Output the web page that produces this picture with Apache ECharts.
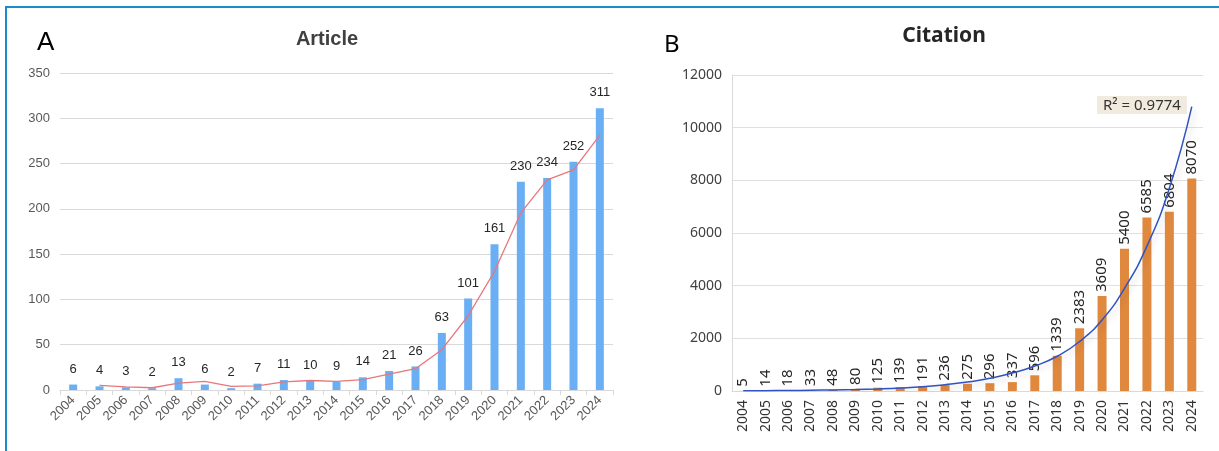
<!DOCTYPE html>
<html>
<head>
<meta charset="utf-8">
<script src="https://cdn.jsdelivr.net/npm/echarts@6/dist/echarts.min.js"></script>
<style>
html,body{margin:0;padding:0;background:#fff;}
#c{width:1219px;height:451px;}
</style>
</head>
<body>
<div id="c"></div>
<script>
const years = ['2004','2005','2006','2007','2008','2009','2010','2011','2012','2013','2014','2015','2016','2017','2018','2019','2020','2021','2022','2023','2024'];
const articles = [6,4,3,2,13,6,2,7,11,10,9,14,21,26,63,101,161,230,234,252,311];
const articleTrend = [null,5,3.5,2.5,7.5,9.5,4,4.5,9,10.5,9.5,11.5,17.5,23.5,44.5,82,131,195.5,232,243,281.5];
const citations = [5,14,18,33,48,80,125,139,191,236,275,296,337,596,1339,2383,3609,5400,6585,6804,8070];
const citationTrend = [10,14,20,28,40,56,80,113,161,240,340,480,680,950,1320,1880,2700,3900,5500,7700,10800];
const articleTicks = [0,50,100,150,200,250,300,350];
const citationTicks = [0,2000,4000,6000,8000,10000,12000];
const r2Text = 'R² = 0.9774';

const chart = echarts.init(document.getElementById('c'), null, {renderer:'canvas'});
const leftFont = 'Liberation Sans, Arial, sans-serif';
const rightFont = 'Noto Sans, Open Sans, sans-serif';

chart.setOption({
  animation:false,
  backgroundColor:'#fff',
  title:[
    {text:'Article', left:322, top:24, textAlign:'center',
     textStyle:{fontFamily:leftFont, fontSize:20, fontWeight:'bold', color:'#404040'}},
    {text:'Citation', left:939, top:21, textAlign:'center',
     textStyle:{fontFamily:rightFont, fontSize:21, fontWeight:'bold', color:'#262626'}},
    {text:'A', left:32, top:25, textStyle:{fontFamily:leftFont, fontSize:26, fontWeight:'normal', color:'#000'}},
    {text:'B', left:659, top:28, textStyle:{fontFamily:rightFont, fontSize:24, fontWeight:'normal', color:'#000'}}
  ],
  graphic:[
    {type:'rect', shape:{x:5, y:6, width:1214, height:2}, style:{fill:'#1b8bc9'}, silent:true},
    {type:'rect', shape:{x:5, y:6, width:2, height:445}, style:{fill:'#1b8bc9'}, silent:true},
    {type:'text', left:1097, top:96, z:10,
     style:{text:r2Text, fontFamily:rightFont, fontSize:15, fill:'#333',
            backgroundColor:'#f1eadf', padding:[2,6,1,6]}}
  ],
  grid:[
    {left:60, right:606, top:73, bottom:61},
    {left:732, right:16, top:75, bottom:60}
  ],
  xAxis:[
    {type:'category', gridIndex:0, data:years,
     axisLine:{lineStyle:{color:'#d9d9d9'}},
     axisTick:{show:true, alignWithLabel:false, length:5, lineStyle:{color:'#d9d9d9'}},
     axisLabel:{rotate:45, margin:8, fontFamily:leftFont, fontSize:13, color:'#595959', interval:0}},
    {type:'category', gridIndex:1, data:years,
     axisLine:{lineStyle:{color:'#d9d9d9'}},
     axisTick:{show:false},
     axisLabel:{rotate:90, margin:9, fontFamily:rightFont, fontSize:14, color:'#333', interval:0}}
  ],
  yAxis:[
    {type:'value', gridIndex:0, min:articleTicks[0], max:articleTicks[articleTicks.length-1], interval:50,
     axisLine:{show:false}, axisTick:{show:false},
     splitLine:{lineStyle:{color:'#d9d9d9'}},
     axisLabel:{margin:10, fontFamily:leftFont, fontSize:13, color:'#595959'}},
    {type:'value', gridIndex:1, min:citationTicks[0], max:citationTicks[citationTicks.length-1], interval:2000,
     axisLine:{show:true, lineStyle:{color:'#d9d9d9'}}, axisTick:{show:false},
     splitLine:{lineStyle:{color:'#e0e0e0'}},
     axisLabel:{margin:10, fontFamily:rightFont, fontSize:14, color:'#404040', formatter:function(v){return String(v);}}}
  ],
  series:[
    {type:'bar', xAxisIndex:0, yAxisIndex:0, data:articles, barWidth:8,
     itemStyle:{color:'#6aaef3'},
     label:{show:true, position:'top', distance:9, fontFamily:leftFont, fontSize:13, color:'#262626'}},
    {type:'line', xAxisIndex:0, yAxisIndex:0, data:articleTrend, symbol:'none', smooth:false,
     lineStyle:{color:'#e8777b', width:1.3}, z:5},
    {type:'bar', xAxisIndex:1, yAxisIndex:1, data:citations, barWidth:9,
     itemStyle:{color:'#e0893e'},
     label:{show:true, position:'top', rotate:90, align:'left', verticalAlign:'middle', distance:4,
            fontFamily:rightFont, fontSize:15, color:'#262626'}},
    {type:'line', xAxisIndex:1, yAxisIndex:1, data:citationTrend, symbol:'none', smooth:true,
     lineStyle:{color:'#3052c2', width:1.5, shadowColor:'rgba(0,0,0,0.18)', shadowBlur:6, shadowOffsetX:3, shadowOffsetY:3}, z:5}
  ]
});
</script>
</body>
</html>
